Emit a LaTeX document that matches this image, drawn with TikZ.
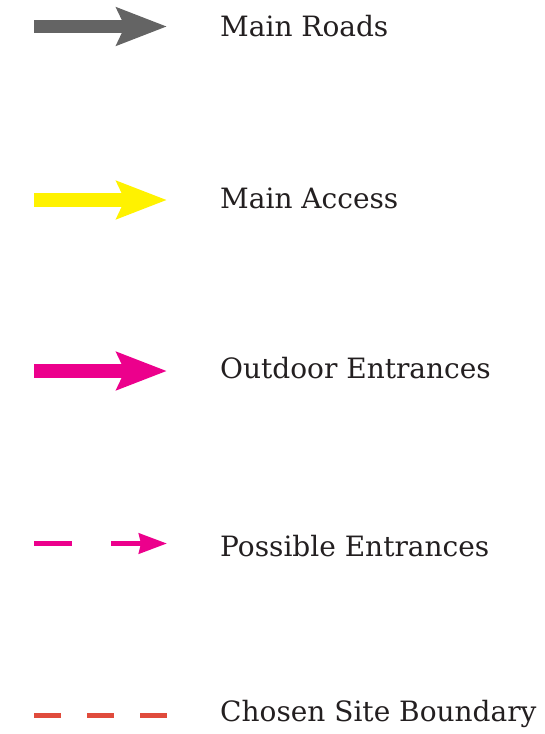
\documentclass[tikz,border=0pt]{standalone}
\usepackage{fontspec}
\setmainfont{DejaVu Serif}
\usetikzlibrary{arrows.meta}
\definecolor{roadgray}{HTML}{646464}
\definecolor{accessyellow}{HTML}{FFF200}
\definecolor{entrmag}{HTML}{EC008C}
\definecolor{boundred}{HTML}{E04B3C}
\definecolor{textdark}{HTML}{231F20}
\tikzset{
  lbl/.style={anchor=base west, inner sep=0pt, text=textdark, font=\fontsize{28}{34}\selectfont},
  bigarrow/.style={line width=13.5pt, -{Stealth[length=50pt,width=37pt,inset=8pt]}},
  smallarrow/.style={line width=5pt, -{Stealth[length=28pt,width=20pt,inset=2pt]}},
}
\begin{document}
\begin{tikzpicture}[x=1pt,y=-1pt]
\useasboundingbox (0,0) rectangle (544,734);
% Main Roads
\coordinate (r1) at (34,26.5);
\coordinate (r2) at (167,26.5);
\draw[bigarrow, roadgray] (r1) -- (r2);
\node[lbl] (t1) at (220,36.7) {Main Roads};
% Main Access
\coordinate (a1) at (34,200);
\coordinate (a2) at (167,200);
\draw[bigarrow, accessyellow] (a1) -- (a2);
\node[lbl] (t2) at (220,208.3) {Main Access};
% Outdoor Entrances
\coordinate (o1) at (34,371);
\coordinate (o2) at (167,371);
\draw[bigarrow, entrmag] (o1) -- (o2);
\node[lbl] (t3) at (220,378.3) {Outdoor Entrances};
% Possible Entrances
\coordinate (p1) at (34,543.5);
\coordinate (p2) at (72,543.5);
\coordinate (p3) at (111,543.5);
\coordinate (p4) at (167,543.5);
\draw[line width=5pt, entrmag] (p1) -- (p2);
\draw[smallarrow, entrmag] (p3) -- (p4);
\node[lbl] (t4) at (220,556.7) {Possible Entrances};
% Chosen Site Boundary
\coordinate (b1) at (34,715.5);
\coordinate (b2) at (167,715.5);
\draw[line width=5pt, boundred, dash pattern=on 27pt off 26pt] (b1) -- (b2);
\node[lbl] (t5) at (220,721.7) {Chosen Site Boundary};
\end{tikzpicture}
\end{document}
